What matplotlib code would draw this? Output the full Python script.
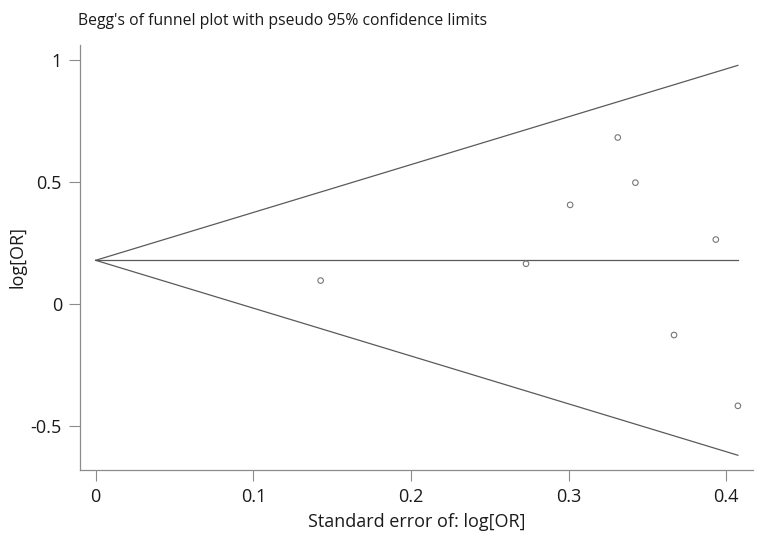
import matplotlib
matplotlib.use("Agg")
import matplotlib.pyplot as plt
import numpy as np

plt.rcParams["font.family"] = ["Open Sans", "DejaVu Sans"]

# study standard errors and log odds ratios
se = [0.1427, 0.2730, 0.3010, 0.3312, 0.3424, 0.3669, 0.3934, 0.4074]
log_or = [0.096, 0.165, 0.406, 0.682, 0.497, -0.127, 0.264, -0.417]
pooled = 0.179

x_ticks = [0, 0.1, 0.2, 0.3, 0.4]
x_tick_labels = ["0", "0.1", "0.2", "0.3", "0.4"]
y_ticks = [-0.5, 0, 0.5, 1]
y_tick_labels = ["-0.5", "0", "0.5", "1"]

LINE = "#5a5a5a"
SPINE = "#8c8c8c"
TEXT = "#1a1a1a"

fig = plt.figure(figsize=(7.61, 5.40), dpi=100)
ax = fig.add_axes([0.1051, 0.1296, 0.8844, 0.7871])

se_max = max(se)
s = np.array([0, se_max])
ax.plot(s, pooled + 1.96 * s, color=LINE, linewidth=0.9)
ax.plot(s, pooled - 1.96 * s, color=LINE, linewidth=0.9)
ax.plot(s, [pooled, pooled], color=LINE, linewidth=0.9)
ax.scatter(se, log_or, s=16, facecolors="none", edgecolors="#777777", linewidths=0.8, zorder=3)

ax.set_xlim(-0.00996, 0.417)
ax.set_ylim(-0.680, 1.061)
ax.set_xticks(x_ticks)
ax.set_xticklabels(x_tick_labels)
ax.set_yticks(y_ticks)
ax.set_yticklabels(y_tick_labels)
ax.tick_params(axis="both", direction="out", length=8, width=0.8, color=SPINE,
               labelsize=13, labelcolor=TEXT, pad=5)

for side in ["top", "right"]:
    ax.spines[side].set_visible(False)
for side in ["left", "bottom"]:
    ax.spines[side].set_color(SPINE)
    ax.spines[side].set_linewidth(0.9)

ax.set_xlabel("Standard error of: log[OR]", fontsize=13, color=TEXT, labelpad=5)
ax.set_ylabel("log[OR]", fontsize=13, color=TEXT, labelpad=3)
fig.text(0.1025, 0.962, "Begg's of funnel plot with pseudo 95% confidence limits",
         fontsize=11.3, color=TEXT, ha="left", va="center")

fig.savefig("out.png", dpi=100)
